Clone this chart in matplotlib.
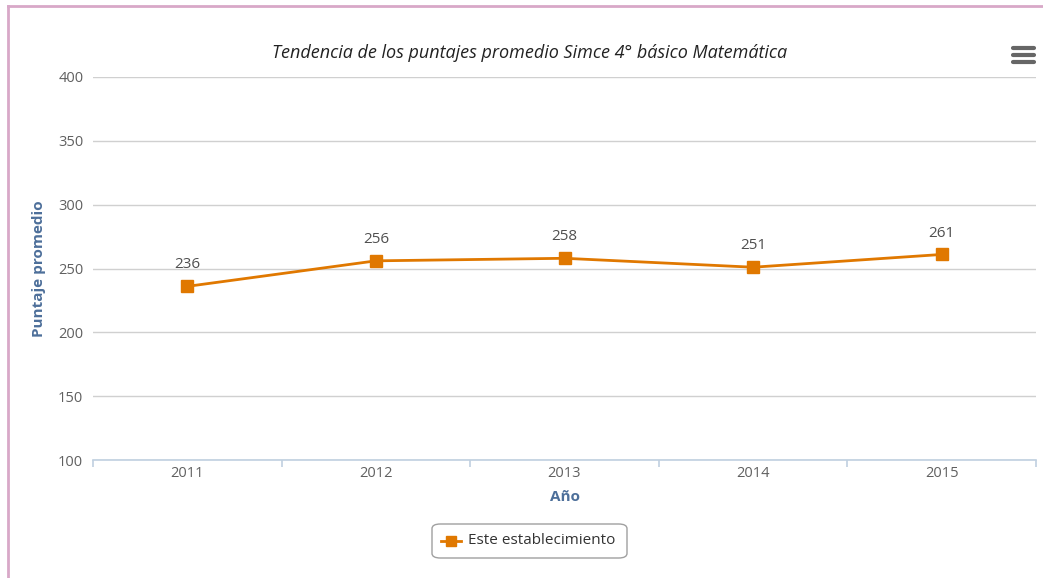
import matplotlib.pyplot as plt
from matplotlib.lines import Line2D
from matplotlib.patches import FancyBboxPatch

# Datos
anios = ['2011', '2012', '2013', '2014', '2015']
puntajes = [236, 256, 258, 251, 261]
y_ticks = [100, 150, 200, 250, 300, 350, 400]

naranja = '#e07800'
gris_texto = '#606060'
azul_titulo = '#4d6f9a'

plt.rcParams['font.family'] = ['Open Sans', 'DejaVu Sans']

fig = plt.figure(figsize=(10.43, 5.78), dpi=100)
ax = fig.add_axes([93 / 1043, 1 - 460 / 578, (1036 - 93) / 1043, (460 - 77) / 578])

x = list(range(len(anios)))
ax.plot(x, puntajes, color=naranja, lw=2, marker='s', ms=8, mfc=naranja, mec=naranja)
for xi, v in zip(x, puntajes):
    ax.annotate(str(v), (xi, v), xytext=(0, 10), textcoords='offset points',
                ha='center', va='bottom', fontsize=11, color='#505050')

ax.set_xlim(-0.5, len(anios) - 0.5)
ax.set_ylim(100, 400)
ax.set_yticks(y_ticks)
ax.set_xticks(x)
ax.set_xticklabels(anios)
ax.set_xticks([i - 0.5 for i in range(len(anios) + 1)], minor=True)
ax.grid(axis='y', color='#d0d0d0', lw=1)
ax.set_axisbelow(True)
for s in ['top', 'right', 'left']:
    ax.spines[s].set_visible(False)
ax.spines['bottom'].set_color('#c0d0e0')
ax.spines['bottom'].set_linewidth(1.2)
ax.tick_params(axis='x', which='major', length=0, pad=4, labelsize=10.5, labelcolor=gris_texto)
ax.tick_params(axis='x', which='minor', length=5, color='#c0d0e0', width=1.2)
ax.tick_params(axis='y', length=0, pad=7, labelsize=10.5, labelcolor=gris_texto)

ax.set_xlabel('Año', fontsize=11, fontweight='bold', color=azul_titulo, labelpad=7)
ax.set_ylabel('Puntaje promedio', fontsize=11, fontweight='bold', color=azul_titulo, labelpad=9)

fig.text(530 / 1043, 1 - 53 / 578, 'Tendencia de los puntajes promedio Simce 4° básico Matemática',
         ha='center', va='center', fontsize=13, style='italic', color='#222222')

# Leyenda
caja = FancyBboxPatch((432 / 1043, 1 - 558 / 578), 195 / 1043, 34 / 578,
                      boxstyle='round,pad=0,rounding_size=0.008', transform=fig.transFigure,
                      fc='white', ec='#a0a0a0', lw=1)
fig.patches.append(caja)
fig.add_artist(Line2D([441 / 1043, 461 / 1043], [1 - 541 / 578] * 2, color=naranja, lw=2,
                      transform=fig.transFigure))
fig.add_artist(Line2D([451 / 1043], [1 - 541 / 578], color=naranja, marker='s', ms=7,
                      transform=fig.transFigure))
fig.text(468 / 1043, 1 - 541 / 578, 'Este establecimiento', ha='left', va='center',
         fontsize=11, color='#333333')

# Icono de menú
for yy in [48, 55, 62]:
    fig.add_artist(Line2D([1013 / 1043, 1034 / 1043], [1 - yy / 578] * 2, color='#666666',
                          lw=3, solid_capstyle='round', transform=fig.transFigure))

# Borde rosado
fig.add_artist(Line2D([8 / 1043, 8 / 1043], [0, 1 - 6 / 578], color='#d8a8c8', lw=2,
                      transform=fig.transFigure))
fig.add_artist(Line2D([8 / 1043, 1], [1 - 6 / 578] * 2, color='#d8a8c8', lw=2,
                      transform=fig.transFigure))

fig.savefig('out.png', dpi=100)
